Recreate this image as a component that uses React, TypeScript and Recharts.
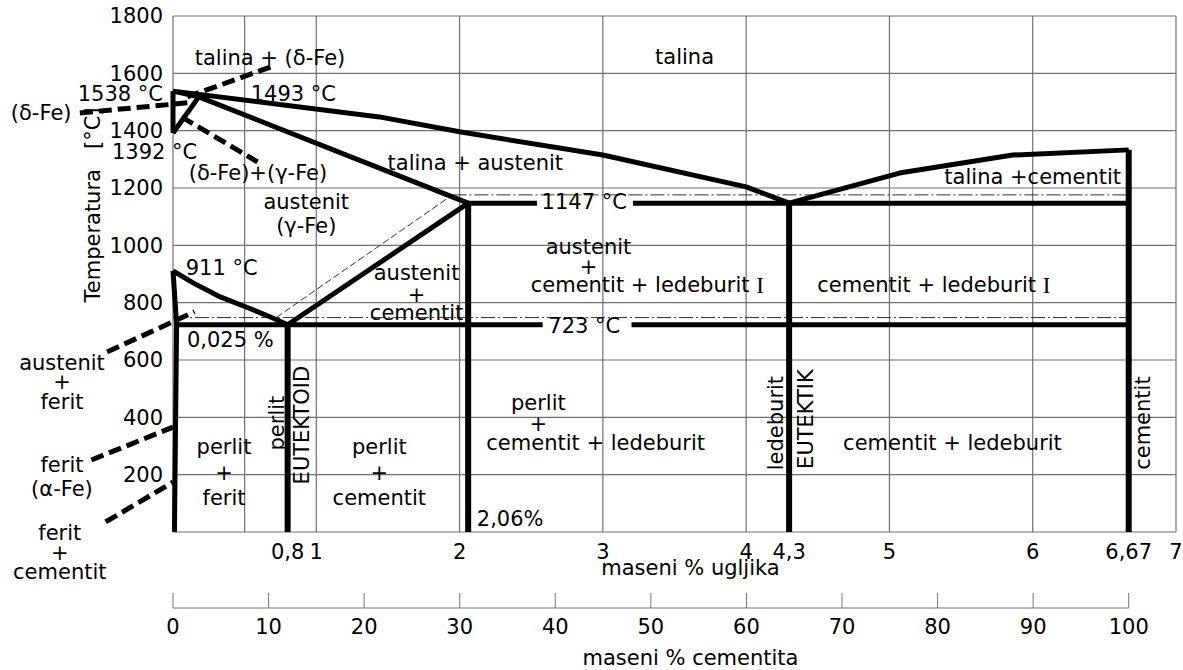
import { ComposedChart, Line, XAxis, YAxis, ReferenceLine, ReferenceDot } from "recharts";

// Fe-Fe3C diagram: x = maseni % ugljika, y = temperatura (°C)
const C_MAX = 7;
const CEM_MAX = (C_MAX / 6.67) * 100;
const PLOT_W = 1183 - 173 - 7;

const C_TICKS = [0.8, 1, 2, 3, 4, 4.3, 5, 6, 6.67, 7];
const CEM_TICKS = [0, 10, 20, 30, 40, 50, 60, 70, 80, 90, 100];
const T_TICKS = [200, 400, 600, 800, 1000, 1200, 1400, 1600, 1800];
const GRID_X = [0, 0.5, 1, 2, 3, 4, 5, 6, 7];
const GRID_Y = [0, 200, 400, 600, 800, 1000, 1200, 1400, 1600, 1800];

// phase boundaries
const LIQUIDUS_AC = [
  { x: 0, y: 1538 },
  { x: 1.44, y: 1448 },
  { x: 2, y: 1396 },
  { x: 3, y: 1315 },
  { x: 4, y: 1204 },
  { x: 4.3, y: 1147 },
];
const LIQUIDUS_CD = [
  { x: 4.3, y: 1147 },
  { x: 5.07, y: 1252 },
  { x: 5.86, y: 1315 },
  { x: 6.67, y: 1333 },
];
const DELTA_AN = [
  { x: 0, y: 1538 },
  { x: 0, y: 1392 },
];
const DELTA_AH = [
  { x: 0, y: 1538 },
  { x: 0.18, y: 1518 },
];
const DELTA_NH = [
  { x: 0, y: 1392 },
  { x: 0.18, y: 1518 },
];
const SOLIDUS_JE = [
  { x: 0.18, y: 1518 },
  { x: 2.06, y: 1147 },
];
const LINE_GS = [
  { x: 0, y: 911 },
  { x: 0.14, y: 869 },
  { x: 0.33, y: 820 },
  { x: 0.51, y: 785 },
  { x: 0.68, y: 750 },
  { x: 0.8, y: 723 },
];
const LINE_ES = [
  { x: 0.8, y: 723 },
  { x: 2.06, y: 1147 },
];
const LINE_GPQ = [
  { x: 0, y: 911 },
  { x: 0.025, y: 723 },
  { x: 0.01, y: 0 },
];
const ECF_LEFT = [
  { x: 2.06, y: 1147 },
  { x: 2.54, y: 1147 },
];
const ECF_RIGHT = [
  { x: 3.21, y: 1147 },
  { x: 6.67, y: 1147 },
];
const PSK_LEFT = [
  { x: 0.025, y: 723 },
  { x: 2.58, y: 723 },
];
const PSK_RIGHT = [
  { x: 3.2, y: 723 },
  { x: 6.67, y: 723 },
];
// vertical lines: composition and upper temperature
const VERTICALS = [
  { x: 0.8, top: 723 },
  { x: 2.06, top: 1147 },
  { x: 4.3, top: 1147 },
  { x: 6.67, top: 1333 },
];

// cementite scale (0 % and 100 % cementita) sits on the second axis
const CEM_SCALE = [
  { x: 0, y: 0 },
  { x: 100, y: 0 },
];

// thin stable-system lines
const THIN_DASHDOT = [
  [{ x: 0, y: 748 }, { x: 6.67, y: 748 }],
  [{ x: 1.95, y: 1176 }, { x: 6.67, y: 1176 }],
];
const THIN_DASHED = [[{ x: 0.72, y: 748 }, { x: 1.95, y: 1176 }]];

// leaders to the labels
const LEADERS = [
  [{ x: 0.68, y: 1622 }, { x: 0.1, y: 1518 }],
  [{ x: -0.65, y: 1462 }, { x: 0.1, y: 1497 }],
  [{ x: 0.06, y: 1448 }, { x: 0.59, y: 1291 }],
  [{ x: -0.46, y: 628 }, { x: 0.15, y: 768 }],
  [{ x: -0.57, y: 251 }, { x: 0, y: 366 }],
  [{ x: -0.47, y: 35 }, { x: 0, y: 174 }],
];

type Note = { text: string; x: number; t: number; anchor?: "start" | "end"; rot?: boolean };
const NOTES: Note[] = [
  { text: "talina + (δ-Fe)", x: 0.677, t: 1654 },
  { text: "talina", x: 3.57, t: 1657 },
  { text: "1538 °C", x: -0.07, t: 1528, anchor: "end" },
  { text: "1493 °C", x: 0.84, t: 1528 },
  { text: "(δ-Fe)", x: -0.92, t: 1462 },
  { text: "1392 °C", x: -0.426, t: 1326, anchor: "start" },
  { text: "(δ-Fe)+(γ-Fe)", x: 0.593, t: 1253 },
  { text: "austenit", x: 0.93, t: 1151 },
  { text: "(γ-Fe)", x: 0.93, t: 1068 },
  { text: "talina + austenit", x: 2.11, t: 1287 },
  { text: "1147 °C", x: 2.87, t: 1151 },
  { text: "talina +cementit", x: 6.0, t: 1239 },
  { text: "911 °C", x: 0.34, t: 921 },
  { text: "austenit", x: 1.7, t: 904 },
  { text: "+", x: 1.7, t: 827 },
  { text: "cementit", x: 1.7, t: 764 },
  { text: "austenit", x: 2.9, t: 994 },
  { text: "+", x: 2.9, t: 925 },
  { text: "cementit + ledeburit I", x: 3.31, t: 862 },
  { text: "cementit + ledeburit I", x: 5.31, t: 862 },
  { text: "723 °C", x: 2.87, t: 719 },
  { text: "0,025 %", x: 0.4, t: 670 },
  { text: "austenit", x: -0.775, t: 590 },
  { text: "+", x: -0.775, t: 523 },
  { text: "ferit", x: -0.775, t: 454 },
  { text: "ferit", x: -0.775, t: 234 },
  { text: "(α-Fe)", x: -0.775, t: 150 },
  { text: "ferit", x: -0.79, t: -3 },
  { text: "+", x: -0.79, t: -73 },
  { text: "cementit", x: -0.79, t: -140 },
  { text: "perlit", x: 0.356, t: 297 },
  { text: "+", x: 0.356, t: 206 },
  { text: "ferit", x: 0.356, t: 119 },
  { text: "perlit", x: 0.725, t: 380, rot: true },
  { text: "EUTEKTOID", x: 0.9, t: 373, rot: true },
  { text: "perlit", x: 1.44, t: 297 },
  { text: "+", x: 1.44, t: 206 },
  { text: "cementit", x: 1.44, t: 119 },
  { text: "perlit", x: 2.55, t: 450 },
  { text: "+", x: 2.55, t: 377 },
  { text: "cementit + ledeburit", x: 2.95, t: 311 },
  { text: "2,06%", x: 2.12, t: 45, anchor: "start" },
  { text: "ledeburit", x: 4.21, t: 380, rot: true },
  { text: "EUTEKTIK", x: 4.42, t: 394, rot: true },
  { text: "cementit + ledeburit", x: 5.44, t: 311 },
  { text: "cementit", x: 6.77, t: 380, rot: true },
];

const FONT = 21;
const fmtC = (v: number) => String(v).replace(".", ",");

// Roman numeral "I" is set in a serif face, as in the original drawing
const noteText = (s: string) =>
  s.endsWith(" I") ? (
    <>
      {s.slice(0, -1)}
      <tspan fontFamily="Liberation Serif" fontSize={FONT + 2}>
        I
      </tspan>
    </>
  ) : (
    s
  );

const CemTick = (props: any) => {
  const { x, y, payload } = props;
  const step = (10 * PLOT_W) / CEM_MAX;
  return (
    <g>
      <line x1={x} y1={y - 15} x2={x} y2={y} stroke="#777" />
      {payload.value < 100 && <line x1={x} y1={y} x2={x + step} y2={y} stroke="#777" />}
      <text x={x} y={y + 26} textAnchor="middle" fontSize={FONT} fill="#000">
        {payload.value}
      </text>
    </g>
  );
};

export default function App() {
  const thick = { stroke: "#000", strokeWidth: 5, dot: false, isAnimationActive: false, strokeLinejoin: "round" as const };
  return (
    <div style={{ position: "absolute", left: 0, top: 0, fontFamily: "DejaVu Sans", background: "#fff" }}>
      <ComposedChart width={1183} height={670} margin={{ top: 16, right: 7, bottom: 0, left: 0 }}>
        <XAxis
          type="number"
          dataKey="x"
          domain={[0, C_MAX]}
          ticks={C_TICKS}
          tickFormatter={fmtC}
          axisLine={false}
          tickLine={false}
          tickSize={0}
          tickMargin={12}
          height={76}
          interval={0}
          tick={{ fontSize: FONT, fill: "#000" }}
          label={{ value: "maseni % ugljika", position: "insideBottom", offset: 33, dx: 16, fontSize: FONT, fill: "#000" }}
        />
        <XAxis
          xAxisId="cem"
          type="number"
          dataKey="x"
          domain={[0, CEM_MAX]}
          ticks={CEM_TICKS}
          axisLine={false}
          tickLine={false}
          tickSize={0}
          tickMargin={0}
          height={62}
          interval={0}
          tick={(p: any) => <CemTick {...p} />}
          label={{ value: "maseni % cementita", position: "insideBottom", offset: 5, dx: 16, fontSize: FONT, fill: "#000" }}
        />
        <YAxis
          type="number"
          domain={[0, 1800]}
          ticks={T_TICKS}
          axisLine={false}
          tickLine={false}
          tickSize={0}
          tickMargin={10}
          width={173}
          interval={0}
          tick={{ fontSize: FONT, fill: "#000" }}
          label={{
            value: "Temperatura\u00a0\u00a0\u00a0[°C]",
            angle: -90,
            position: "insideLeft",
            offset: 93,
            dy: -69,
            fontSize: FONT,
            fill: "#000",
            style: { textAnchor: "middle" },
          }}
        />

        {GRID_X.map((v) => (
          <ReferenceLine key={`gx${v}`} x={v} stroke="#707070" strokeWidth={1.2} />
        ))}
        {GRID_Y.map((v) => (
          <ReferenceLine key={`gy${v}`} y={v} stroke="#707070" strokeWidth={1.2} />
        ))}
        {THIN_DASHDOT.map((s, i) => (
          <ReferenceLine key={`dd${i}`} segment={s} stroke="#333" strokeWidth={1} strokeDasharray="14 3 2 3" />
        ))}
        {THIN_DASHED.map((s, i) => (
          <ReferenceLine key={`td${i}`} segment={s} stroke="#333" strokeWidth={1} strokeDasharray="7 3" />
        ))}

        <Line xAxisId="cem" data={CEM_SCALE} dataKey="y" stroke="none" dot={false} isAnimationActive={false} />

        <Line data={LIQUIDUS_AC} dataKey="y" {...thick} />
        <Line data={LIQUIDUS_CD} dataKey="y" {...thick} />
        <Line data={DELTA_AN} dataKey="y" {...thick} />
        <Line data={DELTA_AH} dataKey="y" {...thick} />
        <Line data={DELTA_NH} dataKey="y" {...thick} />
        <Line data={SOLIDUS_JE} dataKey="y" {...thick} />
        <Line data={LINE_GS} dataKey="y" {...thick} />
        <Line data={LINE_ES} dataKey="y" {...thick} />
        <Line data={LINE_GPQ} dataKey="y" {...thick} />
        <Line data={ECF_LEFT} dataKey="y" {...thick} />
        <Line data={ECF_RIGHT} dataKey="y" {...thick} />
        <Line data={PSK_LEFT} dataKey="y" {...thick} />
        <Line data={PSK_RIGHT} dataKey="y" {...thick} />
        {VERTICALS.map((v) => (
          <Line
            key={`v${v.x}`}
            data={[
              { x: v.x, y: v.top },
              { x: v.x, y: 0 },
            ]}
            dataKey="y"
            {...thick}
            strokeWidth={6}
          />
        ))}

        {LEADERS.map((s, i) => (
          <ReferenceLine
            key={`ld${i}`}
            segment={s}
            ifOverflow="visible"
            stroke="#000"
            strokeWidth={5}
            strokeDasharray="13 6"
          />
        ))}

        {NOTES.map((n, i) => (
          <ReferenceDot
            key={`n${i}`}
            x={n.x}
            y={n.t}
            r={0}
            ifOverflow="visible"
            shape={(p: any) => (
              <text
                x={p.cx}
                y={p.cy}
                textAnchor={n.anchor ?? "middle"}
                dominantBaseline="central"
                transform={n.rot ? `rotate(-90 ${p.cx} ${p.cy})` : undefined}
                fontSize={FONT}
                fill="#000"
              >
                {noteText(n.text)}
              </text>
            )}
          />
        ))}
      </ComposedChart>
    </div>
  );
}
